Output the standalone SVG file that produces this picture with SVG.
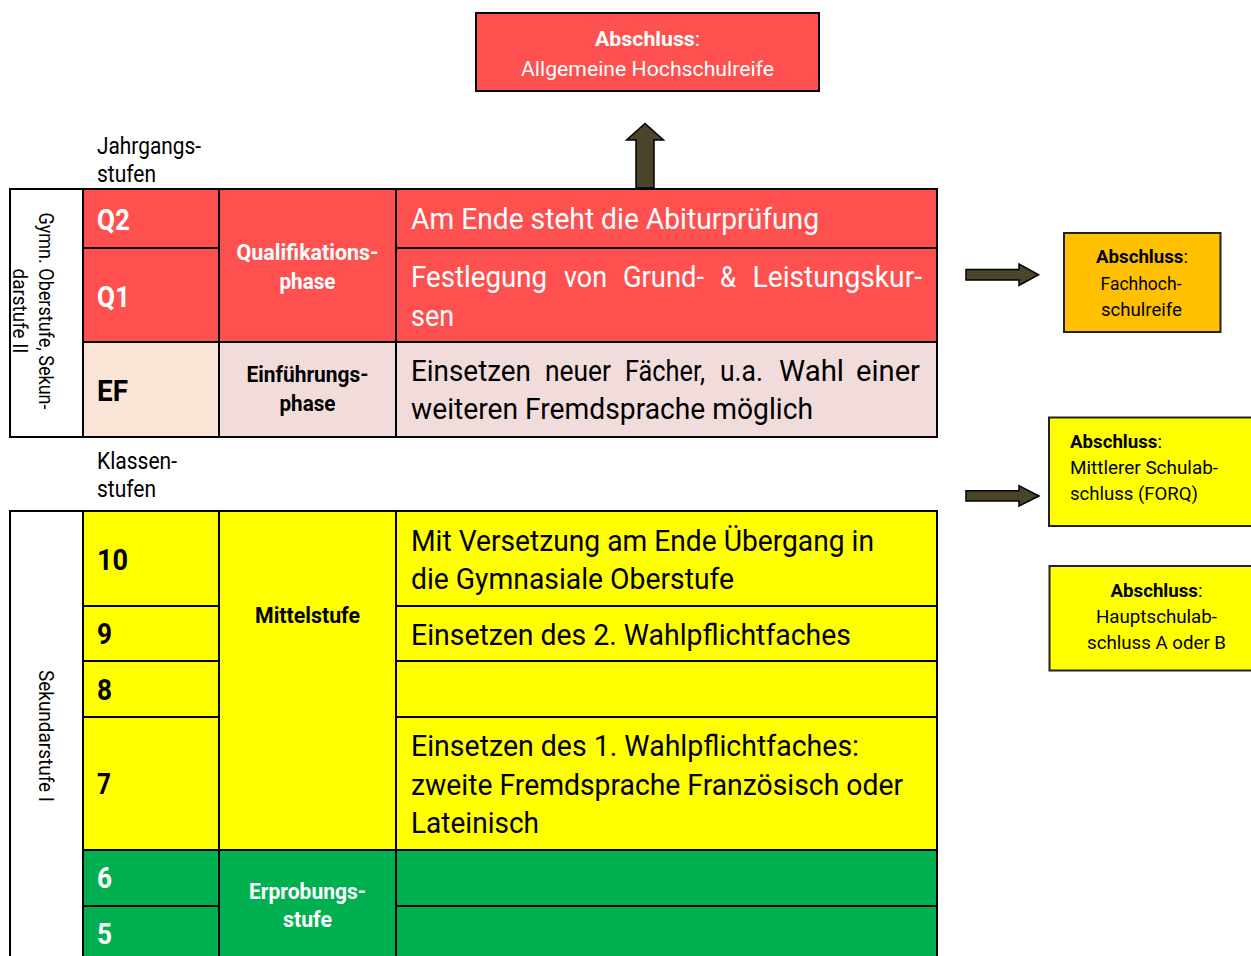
<svg xmlns="http://www.w3.org/2000/svg" width="1251" height="956" viewBox="0 0 1251 956">
<style>
text{font-family:Roboto,"Liberation Sans",sans-serif;}
.c{stroke:#000;stroke-width:2}
.red{fill:#FF5050}
.pink{fill:#F2DCDB}
.peach{fill:#FBE5D6}
.yel{fill:#FFFF00}
.grn{fill:#00B050}
.org{fill:#FFC000}
.wh{fill:#fff}
.b{font-weight:bold}
.big{font-size:30px}
.num{font-size:29px;font-weight:bold}
.ph{font-size:22px;font-weight:bold;text-anchor:middle}
.lbl{font-size:23px;fill:#000}
.side{font-size:20px;fill:#000;text-anchor:middle}
.box{font-size:18.5px;fill:#000}
.arr{fill:#4A452A;stroke:#000;stroke-width:1.5}
</style>
<rect width="1251" height="956" fill="#fff"/>

<g id="abschluss-abitur">
<rect x="476" y="13" width="343" height="78" class="red" stroke="#000" stroke-width="2"/>
<text x="647.5" y="46" font-size="20.5" fill="#fff" text-anchor="middle" textLength="105" lengthAdjust="spacingAndGlyphs"><tspan class="b">Abschluss</tspan>:</text>
<text x="647.5" y="76" font-size="20.5" fill="#fff" text-anchor="middle" textLength="253" lengthAdjust="spacingAndGlyphs">Allgemeine Hochschulreife</text>
</g>

<g id="label-jahrgangsstufen">
<text x="97" y="154" class="lbl" textLength="104" lengthAdjust="spacingAndGlyphs">Jahrgangs-</text>
<text x="97" y="182" class="lbl" textLength="59" lengthAdjust="spacingAndGlyphs">stufen</text>
</g>

<g id="label-klassenstufen">
<text x="97" y="469" class="lbl" textLength="80" lengthAdjust="spacingAndGlyphs">Klassen-</text>
<text x="97" y="497" class="lbl" textLength="59" lengthAdjust="spacingAndGlyphs">stufen</text>
</g>

<g id="sek2-label">
<rect x="10" y="189" width="73" height="248" class="wh c"/>
<g transform="translate(39,311) rotate(90)">
<text x="0" y="0" class="side" textLength="197" lengthAdjust="spacingAndGlyphs">Gymn. Oberstufe, Sekun-</text>
<text x="0" y="26" class="side" textLength="85" lengthAdjust="spacingAndGlyphs">darstufe II</text>
</g>
</g>

<g id="sek1-label">
<rect x="10" y="511" width="73" height="460" class="wh c"/>
<g transform="translate(39,736) rotate(90)">
<text x="0" y="0" class="side" textLength="132" lengthAdjust="spacingAndGlyphs">Sekundarstufe I</text>
</g>
</g>

<g id="row-q2">
<rect x="83" y="189" width="136" height="59" class="red c"/>
<rect x="396" y="189" width="541" height="59" class="red c"/>
<text x="97" y="230" class="num" fill="#fff" textLength="33" lengthAdjust="spacingAndGlyphs">Q2</text>
<text x="411" y="229" class="big" fill="#fff" textLength="408" lengthAdjust="spacingAndGlyphs">Am Ende steht die Abiturprüfung</text>
</g>

<g id="row-q1">
<rect x="83" y="248" width="136" height="94" class="red c"/>
<rect x="396" y="248" width="541" height="94" class="red c"/>
<text x="97" y="307" class="num" fill="#fff" textLength="33" lengthAdjust="spacingAndGlyphs">Q1</text>
<g class="big" fill="#fff">
<text x="411" y="287" textLength="136" lengthAdjust="spacingAndGlyphs">Festlegung</text>
<text x="564" y="287" textLength="43" lengthAdjust="spacingAndGlyphs">von</text>
<text x="623" y="287" textLength="81" lengthAdjust="spacingAndGlyphs">Grund-</text>
<text x="720" y="287" textLength="16" lengthAdjust="spacingAndGlyphs">&amp;</text>
<text x="752.5" y="287" textLength="169.5" lengthAdjust="spacingAndGlyphs">Leistungskur-</text>
<text x="411" y="325.5" textLength="43" lengthAdjust="spacingAndGlyphs">sen</text>
</g>
</g>

<g id="phase-qualifikation">
<rect x="219" y="189" width="177" height="153" class="red c"/>
<text x="307.5" y="260" class="ph" fill="#fff" textLength="142" lengthAdjust="spacingAndGlyphs">Qualifikations-</text>
<text x="307.5" y="289" class="ph" fill="#fff" textLength="56" lengthAdjust="spacingAndGlyphs">phase</text>
</g>

<g id="row-ef">
<rect x="83" y="342" width="136" height="95" class="peach c"/>
<rect x="219" y="342" width="177" height="95" class="pink c"/>
<rect x="396" y="342" width="541" height="95" class="pink c"/>
<text x="97" y="401" class="num" fill="#000" textLength="31" lengthAdjust="spacingAndGlyphs">EF</text>
<text x="307.5" y="382" class="ph" fill="#000" textLength="122" lengthAdjust="spacingAndGlyphs">Einführungs-</text>
<text x="307.5" y="411" class="ph" fill="#000" textLength="56" lengthAdjust="spacingAndGlyphs">phase</text>
<g class="big" fill="#000">
<text x="411" y="381" textLength="120" lengthAdjust="spacingAndGlyphs">Einsetzen</text>
<text x="545" y="381" textLength="66" lengthAdjust="spacingAndGlyphs">neuer</text>
<text x="625" y="381" textLength="80" lengthAdjust="spacingAndGlyphs">Fächer,</text>
<text x="720" y="381" textLength="43" lengthAdjust="spacingAndGlyphs">u.a.</text>
<text x="779" y="381" textLength="65" lengthAdjust="spacingAndGlyphs">Wahl</text>
<text x="856" y="381" textLength="64" lengthAdjust="spacingAndGlyphs">einer</text>
<text x="411" y="419" textLength="402" lengthAdjust="spacingAndGlyphs">weiteren Fremdsprache möglich</text>
</g>
</g>

<g id="phase-mittelstufe">
<rect x="219" y="511" width="177" height="339" class="yel c"/>
<text x="307.5" y="622.5" class="ph" fill="#000" textLength="105" lengthAdjust="spacingAndGlyphs">Mittelstufe</text>
</g>

<g id="row-10">
<rect x="83" y="511" width="136" height="95" class="yel c"/>
<rect x="396" y="511" width="541" height="95" class="yel c"/>
<text x="97" y="570" class="num" fill="#000" textLength="31" lengthAdjust="spacingAndGlyphs">10</text>
<text x="411" y="551" class="big" fill="#000" textLength="463" lengthAdjust="spacingAndGlyphs">Mit Versetzung am Ende Übergang in</text>
<text x="411" y="589" class="big" fill="#000" textLength="323" lengthAdjust="spacingAndGlyphs">die Gymnasiale Oberstufe</text>
</g>

<g id="row-9">
<rect x="83" y="606" width="136" height="55" class="yel c"/>
<rect x="396" y="606" width="541" height="55" class="yel c"/>
<text x="97" y="644" class="num" fill="#000" textLength="15" lengthAdjust="spacingAndGlyphs">9</text>
<text x="411" y="645" class="big" fill="#000" textLength="440" lengthAdjust="spacingAndGlyphs">Einsetzen des 2. Wahlpflichtfaches</text>
</g>

<g id="row-8">
<rect x="83" y="661" width="136" height="56" class="yel c"/>
<rect x="396" y="661" width="541" height="56" class="yel c"/>
<text x="97" y="700" class="num" fill="#000" textLength="15" lengthAdjust="spacingAndGlyphs">8</text>
</g>

<g id="row-7">
<rect x="83" y="717" width="136" height="133" class="yel c"/>
<rect x="396" y="717" width="541" height="133" class="yel c"/>
<text x="97" y="794" class="num" fill="#000" textLength="14" lengthAdjust="spacingAndGlyphs">7</text>
<text x="411" y="756" class="big" fill="#000" textLength="448" lengthAdjust="spacingAndGlyphs">Einsetzen des 1. Wahlpflichtfaches:</text>
<text x="411" y="794.5" class="big" fill="#000" textLength="492" lengthAdjust="spacingAndGlyphs">zweite Fremdsprache Französisch oder</text>
<text x="411" y="833" class="big" fill="#000" textLength="128" lengthAdjust="spacingAndGlyphs">Lateinisch</text>
</g>

<g id="phase-erprobungsstufe">
<rect x="219" y="850" width="177" height="120" class="grn c"/>
<text x="307.5" y="898.5" class="ph" fill="#fff" textLength="117" lengthAdjust="spacingAndGlyphs">Erprobungs-</text>
<text x="307.5" y="927" class="ph" fill="#fff" textLength="49" lengthAdjust="spacingAndGlyphs">stufe</text>
</g>

<g id="row-6">
<rect x="83" y="850" width="136" height="56" class="grn c"/>
<rect x="396" y="850" width="541" height="56" class="grn c"/>
<text x="97" y="888" class="num" fill="#fff" textLength="15" lengthAdjust="spacingAndGlyphs">6</text>
</g>

<g id="row-5">
<rect x="83" y="906" width="136" height="64" class="grn c"/>
<rect x="396" y="906" width="541" height="64" class="grn c"/>
<text x="97" y="944" class="num" fill="#fff" textLength="15" lengthAdjust="spacingAndGlyphs">5</text>
</g>

<g id="abschluss-fachhochschulreife">
<rect x="1064" y="233" width="156.5" height="99" class="org" stroke="#222" stroke-width="2"/>
<text x="1142" y="263" class="box" text-anchor="middle" textLength="92" lengthAdjust="spacingAndGlyphs"><tspan class="b">Abschluss</tspan>:</text>
<text x="1141" y="290" class="box" text-anchor="middle" textLength="81" lengthAdjust="spacingAndGlyphs">Fachhoch-</text>
<text x="1141.5" y="316" class="box" text-anchor="middle" textLength="81" lengthAdjust="spacingAndGlyphs">schulreife</text>
</g>

<g id="abschluss-mittlerer">
<rect x="1049" y="417.5" width="215" height="108.5" class="yel" stroke="#222" stroke-width="2"/>
<text x="1070" y="448" class="box" textLength="92" lengthAdjust="spacingAndGlyphs"><tspan class="b">Abschluss</tspan>:</text>
<text x="1070" y="474" class="box" textLength="148" lengthAdjust="spacingAndGlyphs">Mittlerer Schulab-</text>
<text x="1070" y="499.5" class="box" textLength="128" lengthAdjust="spacingAndGlyphs">schluss (FORQ)</text>
</g>

<g id="abschluss-haupt">
<rect x="1049.5" y="566" width="215" height="104.5" class="yel" stroke="#222" stroke-width="2"/>
<text x="1156.5" y="597" class="box" text-anchor="middle" textLength="92" lengthAdjust="spacingAndGlyphs"><tspan class="b">Abschluss</tspan>:</text>
<text x="1156.5" y="623" class="box" text-anchor="middle" textLength="121" lengthAdjust="spacingAndGlyphs">Hauptschulab-</text>
<text x="1156.5" y="648.5" class="box" text-anchor="middle" textLength="139" lengthAdjust="spacingAndGlyphs">schluss A oder B</text>
</g>

<g id="connectors">
<polygon class="arr" points="636,188 636,140 626.5,140 645,123.5 663.5,140 654,140 654,188"/>
<polygon class="arr" points="966,269.5 1019,269.5 1019,264 1038.5,274.7 1019,285.5 1019,280 966,280"/>
<polygon class="arr" points="966,490.7 1019,490.7 1019,485.7 1039,496 1019,506 1019,501 966,501"/>
</g>
</svg>
